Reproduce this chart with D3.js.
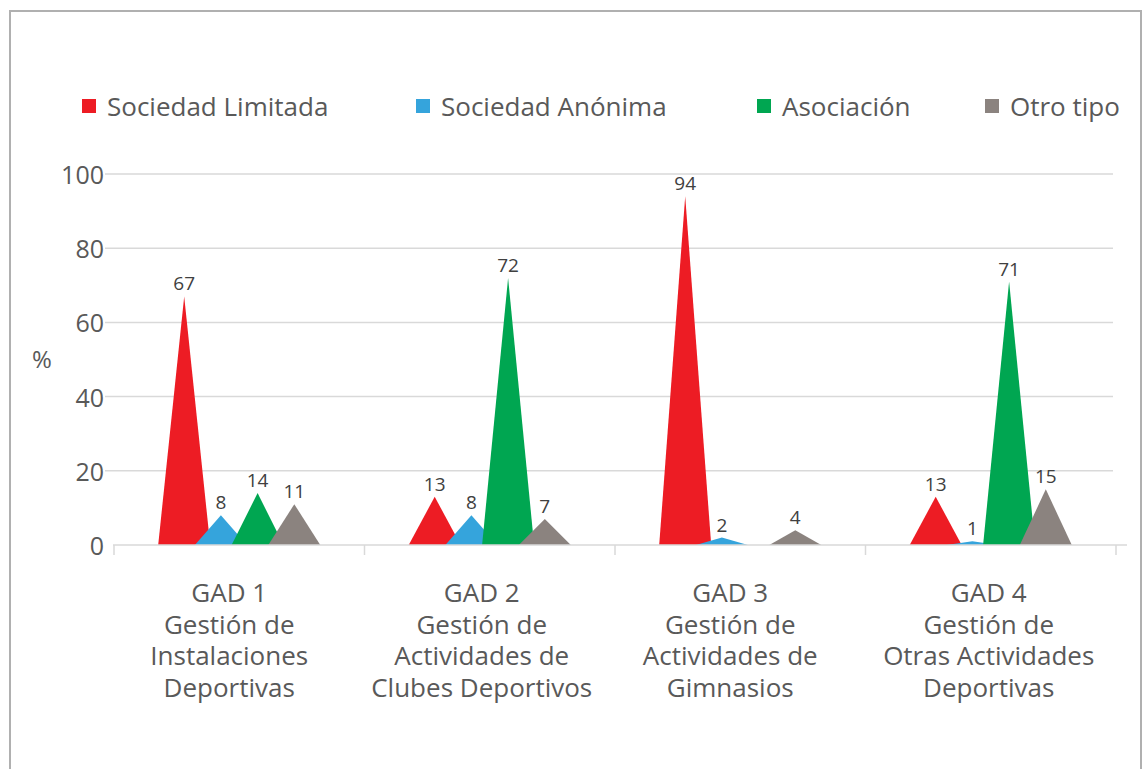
<!DOCTYPE html>
<html>
<head>
<meta charset="utf-8">
<script src="https://cdn.jsdelivr.net/npm/d3@7/dist/d3.min.js"></script>
<style>
  html, body { margin: 0; padding: 0; background: #fff; }
  svg { display: block; font-family: "Open Sans", "Noto Sans", sans-serif; }
</style>
</head>
<body>
<svg id="chart" width="1146" height="769"></svg>
<script>
// Categories (multi-line axis labels)
const categories = ["GAD 1", "GAD 2", "GAD 3", "GAD 4"];
const categoryLines = [
  ["GAD 1", "Gestión de", "Instalaciones", "Deportivas"],
  ["GAD 2", "Gestión de", "Actividades de", "Clubes Deportivos"],
  ["GAD 3", "Gestión de", "Actividades de", "Gimnasios"],
  ["GAD 4", "Gestión de", "Otras Actividades", "Deportivas"]
];

// Series names and their values (%) per category
const seriesNames = ["Sociedad Limitada", "Sociedad Anónima", "Asociación", "Otro tipo"];
const sociedadLimitada = [67, 13, 94, 13];
const sociedadAnonima  = [8, 8, 2, 1];
const asociacion       = [14, 72, 0, 71];
const otroTipo         = [11, 7, 4, 15];
const seriesValues = [sociedadLimitada, sociedadAnonima, asociacion, otroTipo];
const seriesColors = ["#ed1c24", "#35a4dc", "#00a651", "#8b837f"];

const yTicks = [0, 20, 40, 60, 80, 100];

const svg = d3.select("#chart");
const textColor = "#595959";

// Outer frame
svg.append("rect")
  .attr("x", 10).attr("y", 11).attr("width", 1131).attr("height", 800)
  .attr("fill", "none").attr("stroke", "#b0b0b0").attr("stroke-width", 2);

// Scales
const y = d3.scaleLinear().domain([0, 100]).range([545, 174]);
const x = d3.scaleBand().domain(categories).range([114, 1116]);
const inner = d3.scaleBand().domain(seriesNames).range([-73.4, 73.4]);
const halfBase = 26;

// Horizontal gridlines
svg.append("g").selectAll("line").data(yTicks.filter(t => t > 0)).join("line")
  .attr("x1", 105).attr("x2", 1113)
  .attr("y1", d => y(d)).attr("y2", d => y(d))
  .attr("stroke", "#d9d9d9").attr("stroke-width", 1.5);

// Y tick labels
svg.append("g").selectAll("text").data(yTicks).join("text")
  .attr("x", 104).attr("y", d => y(d))
  .attr("text-anchor", "end").attr("dominant-baseline", "central")
  .attr("font-size", 25).attr("fill", textColor)
  .text(d => d);

// Y axis title
svg.append("text")
  .attr("x", 42).attr("y", 358)
  .attr("text-anchor", "middle").attr("dominant-baseline", "central")
  .attr("font-size", 24).attr("fill", textColor)
  .text("%");

// Triangular "peak" marks per series
const peaks = svg.append("g");
seriesNames.forEach((name, si) => {
  const cx = c => x(c) + x.bandwidth() / 2 + inner(name) + inner.bandwidth() / 2;
  peaks.append("g").selectAll("path")
    .data(categories.map((c, ci) => ({ c, v: seriesValues[si][ci] })).filter(d => d.v > 0))
    .join("path")
    .attr("d", d => {
      const px = cx(d.c);
      return `M${px - halfBase},${y(0)}L${px},${y(d.v)}L${px + halfBase},${y(0)}Z`;
    })
    .attr("fill", seriesColors[si]);
});

// X axis line and category separators
svg.append("line")
  .attr("x1", 113).attr("x2", 1127).attr("y1", y(0)).attr("y2", y(0))
  .attr("stroke", "#d9d9d9").attr("stroke-width", 1.5);
const sepX = categories.map(c => x(c)).concat([x.range()[1]]);
svg.append("g").selectAll("line").data(sepX).join("line")
  .attr("x1", d => d).attr("x2", d => d)
  .attr("y1", y(0)).attr("y2", y(0) + 10)
  .attr("stroke", "#d9d9d9").attr("stroke-width", 1.5);

// Value labels above each peak
const labels = svg.append("g");
seriesNames.forEach((name, si) => {
  const cx = c => x(c) + x.bandwidth() / 2 + inner(name) + inner.bandwidth() / 2;
  labels.append("g").selectAll("text")
    .data(categories.map((c, ci) => ({ c, v: seriesValues[si][ci] })).filter(d => d.v > 0))
    .join("text")
    .attr("x", d => cx(d.c)).attr("y", d => y(d.v) - 6)
    .attr("text-anchor", "middle")
    .attr("font-size", 19).attr("fill", "#404040")
    .text(d => d.v);
});

// Category labels below the axis
const labelShift = [-10, -8, -10, -2];
const catG = svg.append("g");
categories.forEach((c, ci) => {
  const lx = x(c) + x.bandwidth() / 2 + labelShift[ci];
  const t = catG.append("text")
    .attr("x", lx)
    .attr("text-anchor", "middle")
    .attr("font-size", 26).attr("fill", textColor);
  categoryLines[ci].forEach((line, li) => {
    t.append("tspan").attr("x", lx).attr("y", 602 + li * 31.7).text(line);
  });
});

// Legend
const legendX = [82, 416, 757, 985];
const legend = svg.append("g");
seriesNames.forEach((name, si) => {
  legend.append("rect")
    .attr("x", legendX[si]).attr("y", 99).attr("width", 14).attr("height", 14)
    .attr("fill", seriesColors[si]);
  legend.append("text")
    .attr("x", legendX[si] + 25).attr("y", 116)
    .attr("font-size", 26).attr("fill", textColor)
    .text(name);
});
</script>
</body>
</html>
